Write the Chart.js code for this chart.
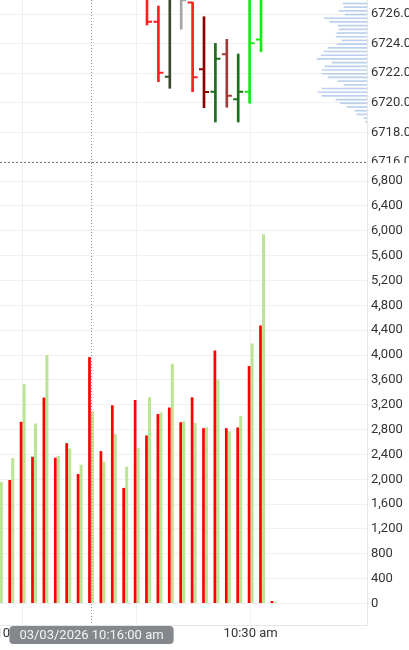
<!DOCTYPE html>
<html>
<head>
<meta charset="utf-8">
<script src="https://cdn.jsdelivr.net/npm/chart.js@4/dist/chart.umd.min.js"></script>
<style>
  html, body { margin: 0; padding: 0; background: #fff; }
  canvas { display: block; }
</style>
</head>
<body>
<canvas id="priceChart" width="409" height="163"></canvas>
<canvas id="volumeChart" width="409" height="487"></canvas>
<script>
// time is kept as minutes after 10:00
const ohlcMinutes = [21, 22, 23, 24, 25, 26, 27, 28, 29, 30, 31];
const opens  = [6727.25, 6725.48, 6721.76, 6727.25, 6726.78, 6722.26, 6720.75, 6723.28, 6720.24, 6720.75, 6724.28];
const highs  = [6727.5, 6726.54, 6727.5, 6727.5, 6726.8, 6725.82, 6724.02, 6724.29, 6723.3, 6727.5, 6727.5];
const lows   = [6725.26, 6721.43, 6720.98, 6724.97, 6720.75, 6719.67, 6718.7, 6719.7, 6718.7, 6719.97, 6723.45];
const closes = [6725.48, 6722.03, 6727.25, 6726.93, 6721.72, 6720.73, 6722.98, 6720.48, 6720.75, 6724.02, 6727.25];

const volumeMinutes = [8, 9, 10, 11, 12, 13, 14, 15, 16, 17, 18, 19, 20, 21, 22, 23, 24, 25, 26, 27, 28, 29, 30, 31, 32];
const sellVolume = [2266, 1989, 2925, 2363, 3315, 2347, 2582, 2085, 3967, 2454, 3192, 1861, 3277, 2706, 3052, 3155, 2919, 3320, 2823, 4074, 2823, 2834, 3823, 4475, 40];
const buyVolume  = [1957, 2342, 3529, 2898, 3999, 2374, 2497, 2235, 3096, 2283, 2727, 2203, 2507, 3320, 3075, 3860, 2935, 2908, 2839, 3609, 2775, 3016, 4186, 5946, 30];

// volume profile, price levels from top to bottom
const profilePrices = [6726.75, 6726.5, 6726.25, 6726, 6725.75, 6725.5, 6725.25, 6725, 6724.75, 6724.5, 6724.25,
  6724, 6723.75, 6723.5, 6723.25, 6723, 6722.75, 6722.5, 6722.25, 6722, 6721.75, 6721.5, 6721.25, 6721,
  6720.75, 6720.5, 6720.25, 6720, 6719.75, 6719.5, 6719.25, 6719, 6718.75];
const profileVolume = [1200, 1150, 1400, 1100, 2150, 1850, 1450, 1400, 1500, 1550, 1250,
  1500, 1950, 2150, 2300, 2500, 1750, 2100, 2250, 2250, 1950, 1450, 1150, 2250,
  2450, 2250, 1550, 1350, 1000, 600, 500, 150, 75];

const xTickValues = [10, 20, 30];
const xTickLabels = ['10:10 am', '10:20 am', '10:30 am'];

const crosshairMinute = 16;
const crosshairPrice = 6716.0;
const crosshairLabel = '03/03/2026 10:16:00 am';

// styles
const barColors = ['#ff1f1f', '#ff1f1f', '#3b4a2e', '#a6a6a6', '#ff1f1f', '#8b0000', '#1a6e1a', '#a33a3a', '#1a6e1a', '#11ee11', '#11ee11'];
const gridColor = '#f0f0f0';
const xMin = 8.0175, xMax = 40.21;

Chart.defaults.font.family = 'Roboto';
Chart.defaults.font.size = 13;
Chart.defaults.color = '#333';

const ohlcTicks = {
  id: 'ohlcTicks',
  afterDatasetsDraw(chart) {
    const { ctx, chartArea: a, scales: { y } } = chart;
    const meta = chart.getDatasetMeta(0);
    ctx.save();
    ctx.beginPath();
    ctx.rect(a.left, a.top, a.width, a.height);
    ctx.clip();
    ctx.lineWidth = 2;
    meta.data.forEach((bar, i) => {
      const yo = y.getPixelForValue(opens[i]);
      const yc = y.getPixelForValue(closes[i]);
      ctx.strokeStyle = barColors[i];
      ctx.beginPath();
      ctx.moveTo(bar.x - 5, yo);
      ctx.lineTo(bar.x, yo);
      ctx.moveTo(bar.x, yc);
      ctx.lineTo(bar.x + 5, yc);
      ctx.stroke();
    });
    ctx.restore();
  }
};

const crosshair = {
  id: 'crosshair',
  afterDraw(chart, args, opts) {
    const { ctx, chartArea: a, scales } = chart;
    const x = Math.round(scales.x.getPixelForValue(crosshairMinute)) + 0.5;
    ctx.save();
    ctx.lineWidth = 1;
    ctx.strokeStyle = '#999';
    ctx.setLineDash([1, 2]);
    ctx.beginPath();
    ctx.moveTo(x, a.top);
    ctx.lineTo(x, a.bottom);
    ctx.stroke();
    if (opts.price != null) {
      const y = Math.round(scales.y.getPixelForValue(opts.price)) + 0.5;
      ctx.strokeStyle = '#777';
      ctx.setLineDash([2, 2]);
      ctx.beginPath();
      ctx.moveTo(a.left, y);
      ctx.lineTo(a.right, y);
      ctx.stroke();
    }
    if (opts.label) {
      ctx.setLineDash([]);
      ctx.font = '13px Roboto';
      const w = ctx.measureText(opts.label).width + 20;
      const top = a.bottom + 1;
      ctx.fillStyle = '#84878c';
      ctx.beginPath();
      ctx.roundRect(x - w / 2, top, w, 18, 4);
      ctx.fill();
      ctx.fillStyle = '#f4f4f4';
      ctx.textAlign = 'center';
      ctx.textBaseline = 'middle';
      ctx.fillText(opts.label, x, top + 9.5);
    }
    ctx.restore();
  }
};

const xScale = (showLabels) => ({
  type: 'linear',
  min: xMin,
  max: xMax,
  offset: false,
  afterBuildTicks: (s) => { s.ticks = xTickValues.map((v) => ({ value: v })); },
  ticks: {
    display: showLabels,
    padding: 1,
    autoSkip: false,
    maxRotation: 0,
    callback: (v) => xTickLabels[xTickValues.indexOf(v)] || ''
  },
  grid: { color: gridColor, drawTicks: false, offset: false },
  border: showLabels ? { color: '#e6e6e6' } : { display: false },
  afterFit: (s) => { s.height = showLabels ? 25 : 0; s.paddingLeft = 0; s.paddingRight = 0; }
});

const priceMin = 6715.93, priceMax = 6726.95;

new Chart(document.getElementById('priceChart'), {
  type: 'bar',
  data: {
    datasets: [
      {
        label: 'Price',
        data: ohlcMinutes.map((m, i) => ({ x: m, y: [lows[i], highs[i]] })),
        backgroundColor: barColors,
        barThickness: 2,
        xAxisID: 'x',
        yAxisID: 'y'
      },
      {
        label: 'Profile',
        indexAxis: 'y',
        data: profilePrices.map((p, i) => ({ x: profileVolume[i], y: p })),
        backgroundColor: 'rgba(140, 176, 224, 0.6)',
        barThickness: 1,
        xAxisID: 'xp',
        yAxisID: 'yp'
      }
    ]
  },
  options: {
    responsive: false,
    animation: false,
    plugins: { legend: { display: false }, tooltip: { enabled: false }, crosshair: { price: crosshairPrice } },
    scales: {
      x: xScale(false),
      y: {
        position: 'right',
        min: priceMin,
        max: priceMax,
        offset: false,
        ticks: { stepSize: 2, padding: 4, includeBounds: false, callback: (v) => v.toFixed(1) },
        grid: { color: gridColor, drawTicks: false, offset: false },
        border: { color: '#e6e6e6' },
        afterFit: (s) => { s.width = 42; s.paddingTop = 0; s.paddingBottom = 0; }
      },
      xp: { type: 'linear', axis: 'x', display: false, offset: false, reverse: true, min: 0, max: 18350 },
      yp: { type: 'linear', axis: 'y', display: false, offset: false, min: priceMin, max: priceMax }
    }
  },
  plugins: [ohlcTicks, crosshair]
});

new Chart(document.getElementById('volumeChart'), {
  type: 'bar',
  data: {
    datasets: [
      {
        label: 'Sell',
        data: volumeMinutes.map((m, i) => ({ x: m, y: sellVolume[i] })),
        backgroundColor: '#ff0000',
        categoryPercentage: 0.53,
        barPercentage: 0.9
      },
      {
        label: 'Buy',
        data: volumeMinutes.map((m, i) => ({ x: m, y: buyVolume[i] })),
        backgroundColor: '#bce495',
        categoryPercentage: 0.53,
        barPercentage: 1
      }
    ]
  },
  options: {
    responsive: false,
    animation: false,
    plugins: { legend: { display: false }, tooltip: { enabled: false }, crosshair: { label: crosshairLabel } },
    scales: {
      x: xScale(true),
      y: {
        position: 'right',
        min: -346,
        max: 7092,
        offset: false,
        ticks: { stepSize: 400, padding: 4, includeBounds: false, callback: (v) => v.toLocaleString('en-US') },
        grid: { color: gridColor, drawTicks: false, offset: false },
        border: { color: '#e6e6e6' },
        afterFit: (s) => { s.width = 42; s.paddingTop = 0; s.paddingBottom = 0; }
      }
    }
  },
  plugins: [crosshair]
});
</script>
</body>
</html>
